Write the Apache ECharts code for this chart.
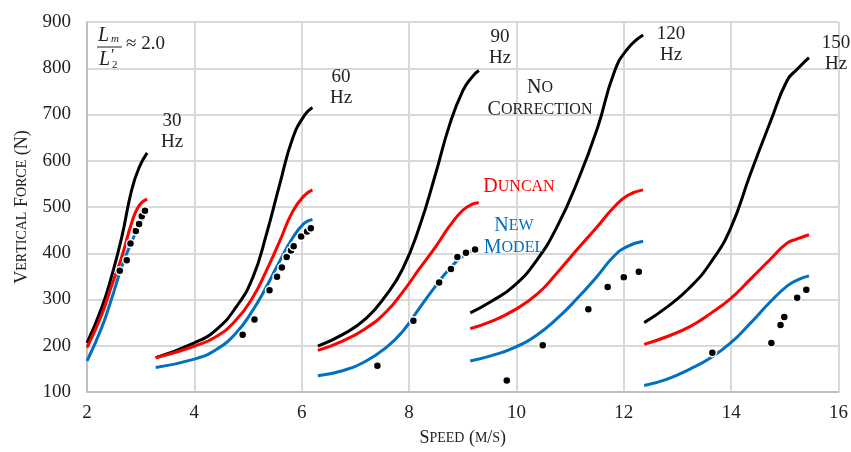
<!DOCTYPE html>
<html>
<head>
<meta charset="utf-8">
<script src="https://cdn.jsdelivr.net/npm/echarts@6/dist/echarts.min.js"></script>
<style>
  html, body { margin: 0; padding: 0; background: #fff; }
  #main { width: 851px; height: 452px; }
</style>
</head>
<body>
<div id="main"></div>
<script>
// axis ticks
const xTicks = [2, 4, 6, 8, 10, 12, 14, 16];
const yTicks = [100, 200, 300, 400, 500, 600, 700, 800, 900];

// 30 Hz
const speed30 = [2.0, 2.27, 2.46, 2.65, 2.83, 2.97, 3.12];
const noCorr30 = [206, 281, 351, 436, 536, 585, 617];
const duncan30 = [196, 266, 330, 393, 465, 503, 517];
const newModel30 = [167, 238, 302, 372, 424, 460, 490];
const exp30Speed = [2.61, 2.74, 2.81, 2.91, 2.97, 3.02, 3.08];
const exp30Force = [362, 385, 421, 448, 463, 480, 492];

// 60 Hz
const speed60 = [3.28, 4.0, 4.41, 4.78, 5.09, 5.34, 5.59, 5.83, 6.05, 6.2];
const noCorr60 = [174, 206, 235, 284, 348, 440, 549, 648, 698, 715];
const duncan60 = [174, 199, 220, 256, 305, 362, 426, 490, 525, 537];
const newModel60 = [153, 171, 192, 228, 277, 327, 383, 433, 465, 473];
const exp60Speed = [4.9, 5.12, 5.4, 5.54, 5.63, 5.72, 5.8, 5.85, 5.99, 6.1, 6.17];
const exp60Force = [224, 257, 320, 349, 369, 392, 406, 415, 436, 447, 454];

// 90 Hz
const speed90 = [6.3, 6.76, 7.2, 7.57, 7.88, 8.19, 8.5, 8.75, 9.0, 9.18, 9.3];
const noCorr90 = [199, 224, 259, 309, 366, 456, 574, 676, 751, 782, 795];
const duncan90 = [190, 210, 238, 273, 316, 366, 415, 458, 493, 506, 509];
const newModel90 = [135, 146, 167, 196, 231, 281, 330, 366, 394, 405, 409];
const exp90Speed = [7.41, 8.08, 8.56, 8.78, 8.9, 9.06, 9.23];
const exp90Force = [157, 254, 337, 366, 392, 401, 408];

// 120 Hz
const speed120 = [9.14, 9.52, 9.96, 10.39, 10.76, 11.13, 11.51, 11.82, 12.07, 12.36];
const noCorr120 = [271, 295, 330, 387, 458, 553, 671, 791, 842, 872];
const duncan120 = [237, 252, 277, 312, 358, 408, 458, 500, 525, 537];
const newModel120 = [167, 178, 196, 224, 259, 302, 351, 394, 415, 426];
const exp120Speed = [9.82, 10.49, 11.34, 11.7, 12.0, 12.28];
const exp120Force = [125, 201, 279, 327, 348, 360];

// 150 Hz
const speed150 = [12.38, 12.81, 13.24, 13.62, 13.99, 14.36, 14.73, 15.04, 15.23, 15.45];
const noCorr150 = [250, 284, 327, 380, 454, 572, 684, 773, 798, 823];
const duncan150 = [203, 220, 242, 270, 302, 344, 387, 422, 431, 440];
const newModel150 = [114, 128, 150, 174, 206, 249, 295, 329, 342, 351];
const exp150Speed = [13.65, 14.75, 14.92, 14.99, 15.23, 15.4];
const exp150Force = [185, 206, 245, 262, 304, 321];

const groups = [
  { speed: speed30, noCorr: noCorr30, duncan: duncan30, newModel: newModel30, expSpeed: exp30Speed, expForce: exp30Force },
  { speed: speed60, noCorr: noCorr60, duncan: duncan60, newModel: newModel60, expSpeed: exp60Speed, expForce: exp60Force },
  { speed: speed90, noCorr: noCorr90, duncan: duncan90, newModel: newModel90, expSpeed: exp90Speed, expForce: exp90Force },
  { speed: speed120, noCorr: noCorr120, duncan: duncan120, newModel: newModel120, expSpeed: exp120Speed, expForce: exp120Force },
  { speed: speed150, noCorr: noCorr150, duncan: duncan150, newModel: newModel150, expSpeed: exp150Speed, expForce: exp150Force }
];

const FONT = 'Liberation Serif';
const TEXT = '#222';
const GRID = '#d9d9d9';

// fake small caps with rich text
function smallCaps(text) {
  let out = '';
  for (const ch of text) {
    if (ch === '\n') out += '\n';
    else if (ch >= 'a' && ch <= 'z') out += '{s|' + ch.toUpperCase() + '}';
    else out += '{c|' + ch + '}';
  }
  return out;
}
function capsRich(color, big, small) {
  return {
    c: { fontFamily: FONT, fontSize: big, color: color, lineHeight: big + 2 },
    s: { fontFamily: FONT, fontSize: small, color: color, lineHeight: big + 2 }
  };
}

const series = [];
const lineDefs = [['noCorr', '#000000'], ['duncan', '#ff0000'], ['newModel', '#0070c0']];
groups.forEach(function (g) {
  lineDefs.forEach(function (d) {
    series.push({
      type: 'line',
      data: g.speed.map(function (s, i) { return [s, g[d[0]][i]]; }),
      smooth: 0.5,
      showSymbol: false,
      lineStyle: { color: d[1], width: 3 },
      z: 2
    });
  });
});
groups.forEach(function (g) {
  series.push({
    type: 'scatter',
    data: g.expSpeed.map(function (s, i) { return [s, g.expForce[i]]; }),
    symbolSize: 8,
    itemStyle: { color: '#000', borderColor: '#fff', borderWidth: 1.5, opacity: 1 },
    z: 5
  });
});

function label(x, y, text, color, rich) {
  return {
    type: 'text', x: x, y: y, z: 10,
    style: { text: text, rich: rich, fill: color, align: 'center', verticalAlign: 'middle', font: '19px ' + FONT, lineHeight: 21 }
  };
}

const chart = echarts.init(document.getElementById('main'));
chart.setOption({
  animation: false,
  backgroundColor: '#fff',
  grid: { left: 87, right: 11, top: 22, bottom: 54 },
  xAxis: {
    type: 'value',
    min: xTicks[0], max: xTicks[xTicks.length - 1], interval: xTicks[1] - xTicks[0],
    name: smallCaps('Speed (m/s)'),
    nameLocation: 'middle',
    nameGap: 36,
    nameTextStyle: { rich: capsRich(TEXT, 18, 14) },
    axisLine: { lineStyle: { color: '#bfbfbf', width: 2 } },
    axisTick: { show: false },
    axisLabel: { color: TEXT, fontFamily: FONT, fontSize: 19, margin: 12 },
    splitLine: { lineStyle: { color: GRID, width: 2 } }
  },
  yAxis: {
    type: 'value',
    min: yTicks[0], max: yTicks[yTicks.length - 1], interval: yTicks[1] - yTicks[0],
    name: smallCaps('Vertical Force (N)'),
    nameLocation: 'middle',
    nameGap: 54,
    nameTextStyle: { rich: capsRich(TEXT, 18, 14) },
    axisLine: { show: true, lineStyle: { color: '#bfbfbf', width: 2 } },
    axisTick: { show: false },
    axisLabel: { color: TEXT, fontFamily: FONT, fontSize: 19, margin: 16 },
    splitLine: { lineStyle: { color: GRID, width: 2 } }
  },
  series: series,
  graphic: [
    label(172, 132, '30\nHz', TEXT),
    label(341, 88, '60\nHz', TEXT),
    label(500, 48, '90\nHz', TEXT),
    label(671, 45, '120\nHz', TEXT),
    label(836, 54, '150\nHz', TEXT),
    label(540, 99, smallCaps('No\nCorrection'), TEXT, capsRich(TEXT, 20, 16)),
    label(519, 187, smallCaps('Duncan'), '#ff0000', capsRich('#ff0000', 20, 16)),
    label(514, 237, smallCaps('New\nModel'), '#0070c0', capsRich('#0070c0', 20, 16)),
    // Lm / L2' ~ 2.0
    { type: 'text', x: 98, y: 26, z: 10, style: { text: 'L', font: 'italic 20px ' + FONT, fill: TEXT } },
    { type: 'text', x: 111, y: 34, z: 10, style: { text: 'm', font: 'italic 11px ' + FONT, fill: TEXT } },
    { type: 'line', z: 10, shape: { x1: 97, y1: 47, x2: 122, y2: 47 }, style: { stroke: TEXT, lineWidth: 1 } },
    { type: 'text', x: 99, y: 50, z: 10, style: { text: 'L', font: 'italic 20px ' + FONT, fill: TEXT } },
    { type: 'text', x: 111, y: 48, z: 10, style: { text: '\u2032', font: '16px ' + FONT, fill: TEXT } },
    { type: 'text', x: 112, y: 60, z: 10, style: { text: '2', font: '11px ' + FONT, fill: TEXT } },
    { type: 'text', x: 126, y: 35, z: 10, style: { text: '\u2248 2.0', font: '19px ' + FONT, fill: TEXT } }
  ]
});
</script>
</body>
</html>
